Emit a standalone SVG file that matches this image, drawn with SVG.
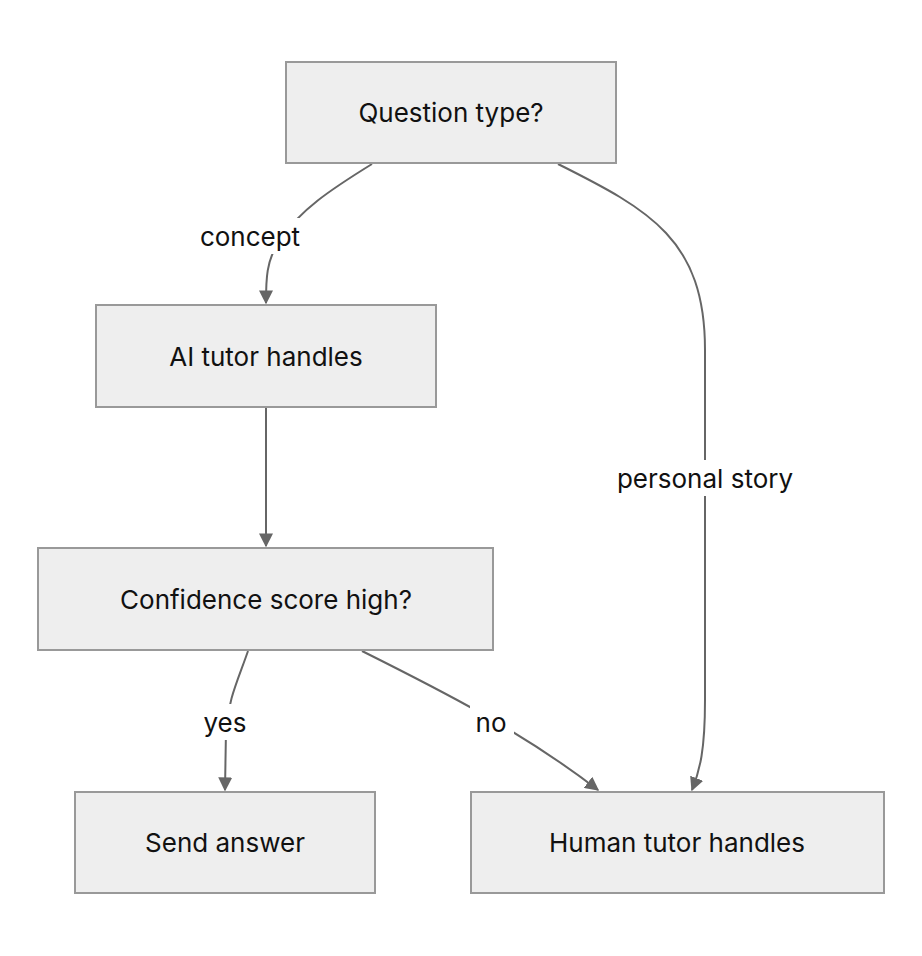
<svg xmlns="http://www.w3.org/2000/svg" width="922" height="956" viewBox="0 0 922 956">
<style>
.n{fill:#eeeeee;stroke:#999999;stroke-width:2}
.t{font-family:Inter,"Liberation Sans",sans-serif;font-size:26px;fill:#111;text-anchor:middle;dominant-baseline:central}
.e{fill:none;stroke:#666;stroke-width:2}
.lb{fill:#fff}
</style>
<defs><marker id="a" viewBox="0 0 10 10" refX="9" refY="5" markerWidth="8" markerHeight="8" markerUnits="userSpaceOnUse" orient="auto"><path d="M0,0L10,5L0,10z" fill="#666"/></marker>
<marker id="b" viewBox="0 0 10 10" refX="9" refY="5" markerWidth="14" markerHeight="14" markerUnits="userSpaceOnUse" orient="auto"><path d="M0,0L10,5L0,10z" fill="#666"/></marker></defs>
<rect width="922" height="956" fill="#fff"/>
<g id="edges">
<path class="e" marker-end="url(#b)" d="M372,164 C330,190 300,210 280,240 C266,260 266,280 266,303"/>
<path class="e" marker-end="url(#b)" d="M558,164 C650,210 705,240 705,350 L705,700 C705,750 700,770 692,790"/>
<path class="e" marker-end="url(#b)" d="M266,407 L266,546"/>
<path class="e" marker-end="url(#b)" d="M248,651 C238,680 228,700 226,730 L225,790"/>
<path class="e" marker-end="url(#b)" d="M362,651 C440,690 520,730 598,790"/>
<rect class="lb" x="188" y="218" width="124" height="36"/><text class="t" x="250" y="236">concept</text>
<rect class="lb" x="600" y="460" width="210" height="36"/><text class="t" x="705" y="478">personal story</text>
<rect class="lb" x="196" y="704" width="58" height="36"/><text class="t" x="225" y="722">yes</text>
<rect class="lb" x="470" y="704" width="44" height="36"/><text class="t" x="491" y="722">no</text>
</g>
<g id="q"><rect class="n" x="286" y="62" width="330" height="101"/><text class="t" x="451" y="112">Question type?</text></g>
<g id="ai"><rect class="n" x="96" y="305" width="340" height="102"/><text class="t" x="266" y="356">AI tutor handles</text></g>
<g id="c"><rect class="n" x="38" y="548" width="455" height="102"/><text class="t" x="266" y="599">Confidence score high?</text></g>
<g id="s"><rect class="n" x="75" y="792" width="300" height="101"/><text class="t" x="225" y="842">Send answer</text></g>
<g id="h"><rect class="n" x="471" y="792" width="413" height="101"/><text class="t" x="677" y="842">Human tutor handles</text></g>
</svg>
